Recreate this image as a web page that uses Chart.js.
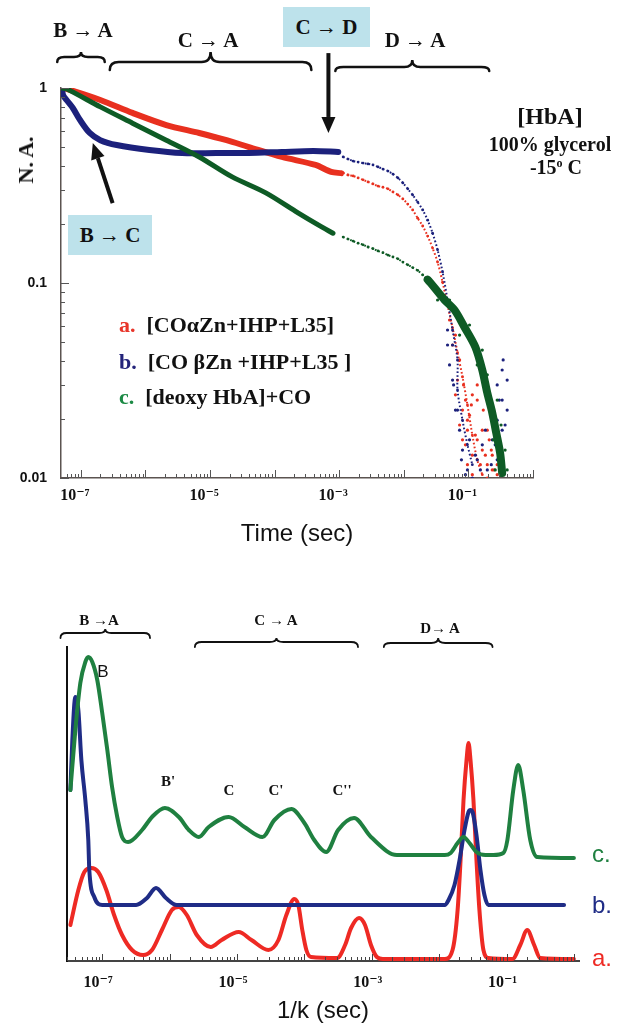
<!DOCTYPE html>
<html>
<head>
<meta charset="utf-8">
<title>HbA CO rebinding</title>
<script src="https://cdn.jsdelivr.net/npm/chart.js@4.4.1/dist/chart.umd.min.js"></script>
<style>
  body { margin: 0; background: #fff; }
  #figure { position: relative; width: 625px; height: 1028px; overflow: hidden;
            font-family: "Liberation Serif", "DejaVu Serif", serif; color: #111; }
  #figure canvas { position: absolute; left: 0; }
  .t { position: absolute; transform: translate(-50%, -50%); white-space: nowrap; font-weight: bold; line-height: 1; }
  .box { position: absolute; background: #bde2eb; display: flex; align-items: center; justify-content: center;
         font-weight: bold; font-size: 21px; white-space: nowrap; }
  .key { position: absolute; left: 119px; transform: translateY(-50%); white-space: nowrap;
         font-weight: bold; font-size: 22px; line-height: 1; }
  .key span { margin-right: 11px; }
  .peak { position: absolute; transform: translate(-50%, -50%); font-weight: bold; font-size: 15px; line-height: 1; }
  .trace { position: absolute; left: 592px; transform: translateY(-50%);
           font: 24px "Liberation Sans", Arial, sans-serif; line-height: 1; }
</style>
</head>
<body>
<div id="figure">
  <canvas id="decay" width="625" height="560" style="top:0"></canvas>
  <canvas id="spectrum" width="625" height="468" style="top:560px"></canvas>

  <!-- top panel annotations -->
  <div class="t" style="left:83px;top:30px;font-size:21px">B → A</div>
  <div class="t" style="left:208px;top:40px;font-size:21px">C → A</div>
  <div class="box" style="left:283px;top:7px;width:87px;height:40px">C → D</div>
  <div class="t" style="left:415px;top:40px;font-size:21px">D → A</div>
  <div class="t" style="left:550px;top:116px;font-size:24px">[HbA]</div>
  <div class="t" style="left:550px;top:144px;font-size:20px">100% glycerol</div>
  <div class="t" style="left:556px;top:167px;font-size:20px">-15<sup style="font-size:60%">o</sup> C</div>
  <div class="box" style="left:68px;top:215px;width:84px;height:40px">B → C</div>
  <div class="t" style="left:26px;top:160px;font-size:22px;transform:translate(-50%,-50%) rotate(-90deg)">N. A.</div>
  <div class="key" style="top:325px"><span style="color:#e8352a">a.</span>[COαZn+IHP+L35]</div>
  <div class="key" style="top:362px"><span style="color:#23237a">b.</span>[CO βZn +IHP+L35 ]</div>
  <div class="key" style="top:397px"><span style="color:#1c8a45">c.</span>[deoxy HbA]+CO</div>

  <!-- bottom panel annotations -->
  <div class="peak" style="left:99px;top:620px">B →A</div>
  <div class="peak" style="left:276px;top:620px">C → A</div>
  <div class="peak" style="left:440px;top:628px">D→ A</div>
  <div class="peak" style="left:103px;top:672px;font:17px 'Liberation Sans',Arial,sans-serif">B</div>
  <div class="peak" style="left:168px;top:781px">B'</div>
  <div class="peak" style="left:229px;top:790px">C</div>
  <div class="peak" style="left:276px;top:790px">C'</div>
  <div class="peak" style="left:342px;top:790px">C''</div>
  <div class="trace" style="top:854px;color:#1f8040">c.</div>
  <div class="trace" style="top:905px;color:#1f2c86">b.</div>
  <div class="trace" style="top:958px;color:#ee2a24">a.</div>
</div>

<script>
// ── Top panel: N.A. vs time (sec) ──────────────────────────────
// dense early band of each trace
const redBandT  = [5.1e-8, 6e-8, 2e-7, 6.3e-7, 2.1e-6, 6.8e-6, 1.8e-5, 4e-5, 1.3e-4, 4.3e-4, 7.5e-4, 1.07e-3];
const redBandNA = [1.0, 0.99, 0.868, 0.745, 0.646, 0.588, 0.54, 0.498, 0.443, 0.403, 0.371, 0.366];
const blueBandT  = [5.1e-8, 5.3e-8, 6e-8, 7.5e-8, 9.7e-8, 1.37e-7, 2e-7, 3.58e-7, 1.15e-6, 3.7e-6, 1.24e-5, 4e-5, 1.3e-4, 3.98e-4, 9.66e-4];
const blueBandNA = [1.0, 0.921, 0.868, 0.79, 0.685, 0.588, 0.54, 0.51, 0.481, 0.464, 0.464, 0.464, 0.47, 0.475, 0.47];
const greenBandT  = [5.1e-8, 6e-8, 2e-7, 6.3e-7, 2.1e-6, 6.8e-6, 2.2e-5, 7.3e-5, 2.3e-4, 4.8e-4, 8e-4];
const greenBandNA = [1.0, 0.99, 0.80, 0.66, 0.54, 0.443, 0.35, 0.29, 0.229, 0.198, 0.18];
const greenLateT  = [2.34e-2, 2.6e-2, 4.28e-2, 6.1e-2, 8.67e-2, 0.128, 0.164, 0.196, 0.234, 0.27, 0.31, 0.333];
const greenLateNA = [0.104, 0.1, 0.0818, 0.0727, 0.0595, 0.047, 0.0358, 0.0273, 0.0216, 0.017, 0.0134, 0.0106];

// sparse dotted tails after 1 ms
const redTailT = [1.15e-3, 1.37e-3, 1.64e-3, 1.96e-3, 2.34e-3, 2.79e-3, 3.33e-3, 3.98e-3, 4.75e-3, 5.68e-3,
  6.78e-3, 8.1e-3, 9.66e-3, 1.15e-2, 1.37e-2, 1.64e-2, 1.96e-2, 2.34e-2, 2.79e-2, 3.33e-2,
  3.98e-2, 4.75e-2, 5.68e-2, 6.78e-2, 8.1e-2, 9.66e-2, 0.115, 0.137, 0.164];
const redTailNA = [0.367, 0.358, 0.354, 0.346, 0.338, 0.33, 0.322, 0.314, 0.31, 0.304,
  0.293, 0.283, 0.27, 0.254, 0.237, 0.215, 0.196, 0.174, 0.151, 0.128,
  0.101, 0.077, 0.059, 0.044, 0.033, 0.0237, 0.0166, 0.0124, 0.0104];
const blueTailT = [1.15e-3, 1.37e-3, 1.64e-3, 1.96e-3, 2.34e-3, 2.79e-3, 3.33e-3, 3.98e-3, 4.75e-3, 5.68e-3,
  6.78e-3, 8.1e-3, 9.66e-3, 1.15e-2, 1.37e-2, 1.64e-2, 1.96e-2, 2.34e-2, 2.79e-2, 3.33e-2,
  3.98e-2, 4.75e-2, 5.68e-2, 6.78e-2, 6.78e-2, 8.1e-2, 9.66e-2, 0.115];
const blueTailNA = [0.443, 0.432, 0.422, 0.417, 0.412, 0.408, 0.403, 0.394, 0.384, 0.375,
  0.362, 0.346, 0.326, 0.304, 0.283, 0.26, 0.237, 0.21, 0.18, 0.148,
  0.114, 0.0818, 0.0574, 0.0403, 0.0283, 0.0198, 0.0148, 0.0117];
const greenTailT = [1.15e-3, 1.37e-3, 1.64e-3, 1.96e-3, 2.34e-3, 2.79e-3, 3.33e-3, 3.98e-3, 4.75e-3, 5.68e-3,
  6.78e-3, 8.1e-3, 9.66e-3, 1.15e-2, 1.37e-2, 1.64e-2, 1.96e-2, 2.34e-2];
const greenTailNA = [0.172, 0.168, 0.164, 0.16, 0.157, 0.153, 0.15, 0.146, 0.143, 0.139,
  0.136, 0.133, 0.128, 0.124, 0.12, 0.116, 0.11, 0.104];

// scattered points near the end of the decay
const redCloudT = [5.68e-2, 6.78e-2, 8.1e-2, 9.66e-2, 0.115, 0.137, 0.164, 0.196, 0.234, 0.196,
  9.66e-2, 0.115, 9.66e-2, 0.137, 0.164, 0.234, 0.279, 8.1e-2, 0.115,
  5.1e-2, 6.3e-2, 7.3e-2, 8.4e-2, 9.0e-2, 0.104, 0.128, 0.153, 0.183, 0.21,
  0.25, 7.3e-2, 6.3e-2, 9.0e-2, 0.111, 0.137, 0.17, 0.196, 0.226, 0.279];
const redCloudNA = [0.0481, 0.0318, 0.0223, 0.0176, 0.0131, 0.0157, 0.0139, 0.0117, 0.011, 0.01,
  0.0117, 0.0104, 0.0198, 0.0251, 0.0176, 0.0131, 0.0104, 0.0157, 0.0267,
  0.0646, 0.0541, 0.0403, 0.030, 0.0251, 0.021, 0.0166, 0.0117, 0.0131, 0.0157,
  0.011, 0.0187, 0.0267, 0.0148, 0.0237, 0.030, 0.0223, 0.0176, 0.0139, 0.0117];
const blueCloudT = [4.75e-2, 5.68e-2, 5.68e-2, 6.78e-2, 8.1e-2, 9.66e-2, 0.115, 0.137, 0.164,
  0.196, 0.234, 0.279, 0.333, 0.333, 0.398, 0.333, 0.279, 0.398,
  4.75e-2, 5.1e-2, 5.9e-2, 6.3e-2, 7.3e-2, 7.8e-2, 9.0e-2, 0.104, 0.128,
  0.153, 0.183, 0.226, 0.26, 0.30, 0.345, 0.37, 0.32, 0.279];
const blueCloudNA = [0.0574, 0.0481, 0.0318, 0.0223, 0.0139, 0.011, 0.01, 0.0124, 0.0148,
  0.011, 0.0157, 0.0198, 0.0358, 0.0251, 0.0318, 0.0176, 0.0124, 0.0223,
  0.0481, 0.038, 0.030, 0.0223, 0.0176, 0.0124, 0.0104, 0.0157, 0.0131,
  0.011, 0.0176, 0.0117, 0.0148, 0.0251, 0.0403, 0.0187, 0.0131, 0.030];
const greenCloudT = [3.33e-2, 5.1e-2, 7.3e-2, 0.104, 0.137, 0.196, 0.226, 0.32, 0.243, 0.37,
  0.398, 0.26, 0.164, 0.279];
const greenCloudNA = [0.0818, 0.0818, 0.0541, 0.0609, 0.038, 0.0338, 0.0251, 0.0187, 0.0157, 0.0139,
  0.011, 0.011, 0.0453, 0.0251];

// ── Bottom panel: amplitude vs 1/k (sec), arbitrary units ───────
const tauA = [3.37e-8, 4.42e-8, 5.42e-8, 6.88e-8, 8.73e-8, 1.15e-7, 1.50e-7, 1.97e-7, 2.77e-7, 4.03e-7,
  5.48e-7, 7.69e-7, 1.08e-6, 1.37e-6, 1.80e-6, 2.53e-6, 4.07e-6, 5.92e-6, 1.06e-5, 1.64e-5,
  2.93e-5, 4.12e-5, 5.40e-5, 7.09e-5, 8.13e-5, 9.31e-5, 1.07e-4, 1.26e-4, 3.06e-4, 4.02e-4,
  4.93e-4, 6.47e-4, 7.94e-4, 9.73e-4, 1.19e-3, 1.46e-3, 1.21e-2, 1.58e-2, 1.88e-2, 2.08e-2,
  2.30e-2, 2.55e-2, 2.73e-2, 2.92e-2, 3.23e-2, 3.58e-2, 3.96e-2, 4.54e-2, 5.38e-2, 0.122,
  0.160, 0.203, 0.257, 0.316, 1.0];
const ampA = [36, 71, 89, 93, 89, 71, 46, 26, 11, 6,
  11, 31, 51, 54, 46, 26, 14, 21, 29, 21,
  11, 21, 46, 62, 56, 31, 11, 4, 3, 16,
  33, 43, 36, 16, 4, 2, 2, 11, 51, 101,
  161, 201, 218, 201, 161, 101, 51, 11, 3, 2,
  16, 31, 16, 3, 2];
const tauB = [3.37e-8, 3.6e-8, 3.99e-8, 4.42e-8, 4.90e-8, 5.61e-8, 6.21e-8, 6.43e-8, 7.62e-8, 1e-7,
  3.18e-7, 4.62e-7, 6.28e-7, 8.82e-7, 1.28e-6, 1.21e-2, 1.38e-2, 1.69e-2, 2.01e-2, 2.38e-2,
  2.73e-2, 2.92e-2, 3.13e-2, 3.58e-2, 4.10e-2, 4.70e-2, 5.38e-2, 0.714];
const ampB = [171, 221, 264, 251, 201, 161, 121, 91, 64, 56,
  56, 63, 73, 63, 56, 56, 61, 76, 101, 131,
  149, 151, 149, 126, 91, 66, 56, 56];
const tauC = [3.37e-8, 3.99e-8, 4.73e-8, 5.61e-8, 6.21e-8, 7.12e-8, 8.44e-8, 1e-7, 1.19e-7, 1.40e-7,
  1.67e-7, 1.97e-7, 2.42e-7, 3.90e-7, 5.48e-7, 8.52e-7, 1.37e-6, 1.93e-6, 2.71e-6, 3.80e-6,
  7.52e-6, 1.29e-5, 2.39e-5, 3.59e-5, 6.41e-5, 1.0e-4, 1.40e-4, 2.11e-4, 3.17e-4, 5.46e-4,
  9.73e-4, 2.36e-3, 1.21e-2, 1.48e-2, 1.88e-2, 2.30e-2, 2.82e-2, 3.58e-2, 4.86e-2, 6.38e-2,
  8.97e-2, 0.103, 0.126, 0.149, 0.177, 0.225, 0.285, 1.0];
const ampC = [171, 231, 278, 299, 304, 299, 281, 248, 211, 174,
  144, 124, 119, 131, 144, 153, 144, 131, 124, 134,
  144, 134, 124, 141, 152, 138, 121, 109, 131, 143,
  124, 106, 106, 108, 118, 124, 118, 109, 106, 106,
  108, 121, 171, 196, 171, 121, 104, 103];

// ── Tick labels ────────────────────────────────────────────────
const xLabelExps = [-7, -5, -3, -1];
const yLabelValues = [0.01, 0.1, 1];

const SERIF = '"Liberation Serif", "DejaVu Serif", serif';
const SANS = '"Liberation Sans", Arial, sans-serif';

const SUP = { '-': '⁻', '0': '⁰', '1': '¹', '2': '²', '3': '³', '4': '⁴', '5': '⁵', '6': '⁶', '7': '⁷', '8': '⁸', '9': '⁹' };
const powerLabel = (e) => '10' + String(e).split('').map((c) => SUP[c]).join('');
const isWhole = (v) => Math.abs(v - Math.round(v)) < 1e-6;
const isDecade = (v) => isWhole(Math.log10(v));
const mantissa = (v) => v / Math.pow(10, Math.floor(Math.log10(v) + 1e-9));
const pts = (xs, ys) => xs.map((x, i) => ({ x, y: ys[i] }));

const xTickLabel = (v) => {
  const e = Math.round(Math.log10(v));
  return isDecade(v) && xLabelExps.includes(e) ? powerLabel(e) : '';
};

// ── Plugins ────────────────────────────────────────────────────

// tick marks pointing into the plot, longer at each decade
const innerTicks = {
  id: 'innerTicks',
  afterDraw(chart, args, opts) {
    const { ctx, chartArea } = chart;
    ctx.save();
    ctx.strokeStyle = opts.color;
    ctx.lineWidth = 1;
    for (const id of opts.axes) {
      const sc = chart.scales[id];
      for (const t of sc.ticks) {
        const v = t.value;
        if (v < sc.min * 0.999 || v > sc.max * 1.001 || !isWhole(mantissa(v))) continue;
        const len = isDecade(v) ? opts.major : opts.minor;
        const p = Math.round(sc.getPixelForValue(v)) + 0.5;
        ctx.beginPath();
        if (sc.isHorizontal()) {
          ctx.moveTo(p, chartArea.bottom);
          ctx.lineTo(p, chartArea.bottom - len);
        } else {
          ctx.moveTo(chartArea.left, p);
          ctx.lineTo(chartArea.left + len, p);
        }
        ctx.stroke();
      }
    }
    ctx.restore();
  },
};

function drawBrace(ctx, x1, x2, y, drop, rise, r) {
  const xm = (x1 + x2) / 2;
  ctx.beginPath();
  ctx.moveTo(x1, y + drop);
  ctx.quadraticCurveTo(x1, y, x1 + r, y);
  ctx.lineTo(xm - r, y);
  ctx.quadraticCurveTo(xm, y, xm, y - rise);
  ctx.quadraticCurveTo(xm, y, xm + r, y);
  ctx.lineTo(x2 - r, y);
  ctx.quadraticCurveTo(x2, y, x2, y + drop);
  ctx.stroke();
}

function drawArrow(ctx, x1, y1, x2, y2, head, width) {
  const ang = Math.atan2(y2 - y1, x2 - x1);
  const bx = x2 - head * Math.cos(ang);
  const by = y2 - head * Math.sin(ang);
  ctx.beginPath();
  ctx.moveTo(x1, y1);
  ctx.lineTo(bx, by);
  ctx.stroke();
  ctx.beginPath();
  ctx.moveTo(x2, y2);
  ctx.lineTo(bx + (width / 2) * Math.sin(ang), by - (width / 2) * Math.cos(ang));
  ctx.lineTo(bx - (width / 2) * Math.sin(ang), by + (width / 2) * Math.cos(ang));
  ctx.closePath();
  ctx.fill();
}

// braces (x range in data units, y in canvas pixels) and arrows (data units)
const annotations = {
  id: 'annotations',
  afterDraw(chart, args, opts) {
    const { ctx } = chart;
    const xs = chart.scales.x;
    const ys = chart.scales.y;
    ctx.save();
    ctx.strokeStyle = '#111';
    ctx.fillStyle = '#111';
    ctx.lineCap = 'round';
    ctx.lineWidth = opts.braceWidth;
    for (const b of opts.braces) {
      drawBrace(ctx, xs.getPixelForValue(b.from), xs.getPixelForValue(b.to), b.y, b.drop, b.rise, b.r);
    }
    ctx.lineWidth = 4;
    ctx.lineCap = 'butt';
    for (const a of opts.arrows) {
      drawArrow(ctx,
        xs.getPixelForValue(a.from[0]), ys.getPixelForValue(a.from[1]),
        xs.getPixelForValue(a.to[0]), ys.getPixelForValue(a.to[1]), 16, 14);
    }
    ctx.restore();
  },
};

// ── Top chart ──────────────────────────────────────────────────
const RED = '#e8301f';
const NAVY = '#1c217c';
const DKGREEN = '#0e5b25';

const band = (xs, ys, color, width) => ({
  data: pts(xs, ys), showLine: true, borderColor: color, borderWidth: width,
  pointRadius: 0, tension: 0.3, borderCapStyle: 'round',
});
const tail = (xs, ys, color) => ({
  data: pts(xs, ys), showLine: true, borderColor: color, borderWidth: 2,
  borderDash: [1.6, 2.2], tension: 0.3, pointRadius: 1.4, pointBorderWidth: 0,
  backgroundColor: color,
});
const cloud = (xs, ys, color) => ({
  data: pts(xs, ys), showLine: false, pointRadius: 1.6, pointBorderWidth: 0,
  backgroundColor: color, borderColor: color,
});

new Chart(document.getElementById('decay'), {
  type: 'scatter',
  data: {
    datasets: [
      band(greenBandT, greenBandNA, DKGREEN, 5),
      band(greenLateT, greenLateNA, DKGREEN, 8),
      tail(greenTailT, greenTailNA, DKGREEN),
      cloud(greenCloudT, greenCloudNA, DKGREEN),
      band(blueBandT, blueBandNA, NAVY, 6),
      tail(blueTailT, blueTailNA, NAVY),
      cloud(blueCloudT, blueCloudNA, NAVY),
      band(redBandT, redBandNA, RED, 6),
      tail(redTailT, redTailNA, RED),
      cloud(redCloudT, redCloudNA, RED),
    ],
  },
  options: {
    responsive: false,
    animation: false,
    devicePixelRatio: 1,
    layout: { padding: { top: 88, right: 92, left: 0, bottom: 0 } },
    plugins: {
      legend: { display: false },
      tooltip: { enabled: false },
      innerTicks: { axes: ['x', 'y'], major: 8, minor: 4, color: '#555' },
      annotations: {
        braceWidth: 2.5,
        braces: [
          { from: 4.3e-8, to: 2.34e-7, y: 57, drop: 5, rise: 5, r: 7 },
          { from: 2.8e-7, to: 3.7e-4, y: 62, drop: 8, rise: 10, r: 9 },
          { from: 8.7e-4, to: 0.21, y: 67, drop: 4, rise: 7, r: 8 },
        ],
        arrows: [
          { from: [6.8e-4, 1.51], to: [6.8e-4, 0.588] },
          { from: [3.1e-7, 0.257], to: [1.53e-7, 0.522] },
        ],
      },
    },
    scales: {
      x: {
        type: 'logarithmic',
        min: 4.92e-8,
        max: 1,
        afterFit: (s) => { s.height = 82; },
        grid: { display: false, drawTicks: false },
        border: { color: '#5b5350', width: 1.5 },
        ticks: {
          autoSkip: false, maxRotation: 0, minRotation: 0, padding: 8, labelOffset: -6, color: '#111',
          font: { family: SERIF, size: 16, weight: 'bold' },
          callback: xTickLabel,
        },
        title: {
          display: true, text: 'Time (sec)', color: '#111',
          font: { family: SANS, size: 24 }, padding: { top: 0, bottom: 11 },
        },
      },
      y: {
        type: 'logarithmic',
        min: 0.01,
        max: 1,
        afterFit: (s) => { s.width = 61; },
        grid: { display: false, drawTicks: false },
        border: { color: '#5b5350', width: 1.5 },
        ticks: {
          autoSkip: false, padding: 14, color: '#111',
          font: { family: SANS, size: 14, weight: 'bold' },
          callback: (v) => {
            const hit = yLabelValues.find((l) => Math.abs(l - v) < l * 1e-6);
            return hit === undefined ? '' : String(hit);
          },
        },
      },
    },
  },
  plugins: [innerTicks, annotations],
});

// ── Bottom chart ───────────────────────────────────────────────
const RED2 = '#ee2a24';
const NAVY2 = '#1f2c86';
const GREEN2 = '#1f8040';

const curve = (xs, ys, color) => ({
  data: pts(xs, ys), showLine: true, borderColor: color, borderWidth: 4,
  pointRadius: 0, cubicInterpolationMode: 'monotone', clip: false,
  borderJoinStyle: 'round', borderCapStyle: 'round',
});

new Chart(document.getElementById('spectrum'), {
  type: 'scatter',
  data: {
    datasets: [
      curve(tauC, ampC, GREEN2),
      curve(tauB, ampB, NAVY2),
      curve(tauA, ampA, RED2),
    ],
  },
  options: {
    responsive: false,
    animation: false,
    devicePixelRatio: 1,
    layout: { padding: { top: 87, right: 46, left: 0, bottom: 0 } },
    plugins: {
      legend: { display: false },
      tooltip: { enabled: false },
      innerTicks: { axes: ['x'], major: 7, minor: 4, color: '#444' },
      annotations: {
        braceWidth: 1.8,
        braces: [
          { from: 2.4e-8, to: 5.12e-7, y: 73, drop: 5, rise: 4, r: 6 },
          { from: 2.37e-6, to: 6.25e-4, y: 82, drop: 5, rise: 4, r: 7 },
          { from: 1.51e-3, to: 6.2e-2, y: 83, drop: 4, rise: 5, r: 7 },
        ],
        arrows: [],
      },
    },
    scales: {
      x: {
        type: 'logarithmic',
        min: 3.26e-8,
        max: 1.19,
        afterFit: (s) => { s.height = 67; },
        grid: { display: false, drawTicks: false },
        border: { color: '#444', width: 2 },
        ticks: {
          autoSkip: false, maxRotation: 0, minRotation: 0, padding: 12, labelOffset: -4, color: '#111',
          font: { family: SERIF, size: 16, weight: 'bold' },
          callback: xTickLabel,
        },
        title: {
          display: true, text: '1/k (sec)', color: '#111',
          font: { family: SANS, size: 24 }, padding: { top: 0, bottom: 2 },
        },
      },
      y: {
        min: 0,
        max: 314,
        afterFit: (s) => { s.width = 67; },
        grid: { display: false, drawTicks: false },
        border: { color: '#111', width: 2 },
        ticks: { display: false },
      },
    },
  },
  plugins: [innerTicks, annotations],
});
</script>
</body>
</html>
